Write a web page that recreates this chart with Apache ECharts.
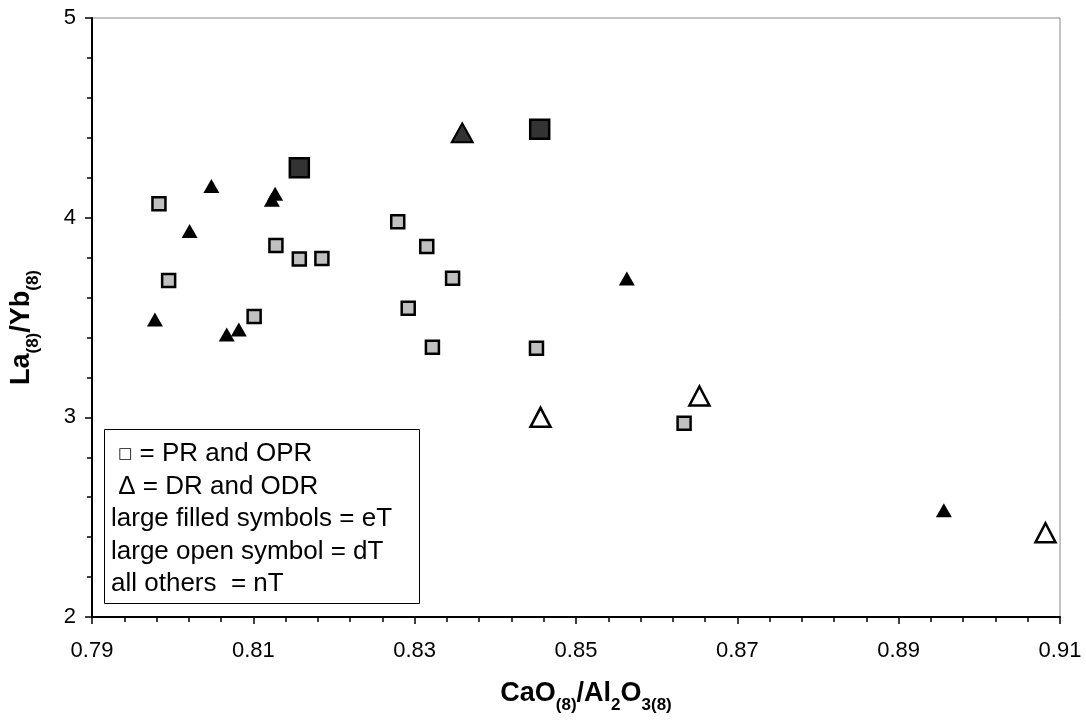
<!DOCTYPE html>
<html>
<head>
<meta charset="utf-8">
<script src="https://cdn.jsdelivr.net/npm/echarts@6/dist/echarts.min.js"></script>
<style>
  html, body { margin: 0; padding: 0; background: #fff; }
  #chart { width: 1086px; height: 724px; }
</style>
</head>
<body>
<div id="chart"></div>
<script>
// small grey squares: PR and OPR, nT
const prSquares = [
  [0.7983, 4.07], [0.7995, 3.685], [0.8101, 3.505], [0.8128, 3.86],
  [0.8157, 3.793], [0.8185, 3.796], [0.8279, 3.98], [0.8315, 3.855],
  [0.8347, 3.696], [0.8292, 3.546], [0.8322, 3.351], [0.8451, 3.346],
  [0.8634, 2.97]
]
// small black triangles: DR and ODR, nT
const drTriangles = [
  [0.7978, 3.49], [0.8021, 3.933], [0.8048, 4.159], [0.8067, 3.415],
  [0.8082, 3.44], [0.8123, 4.09], [0.8127, 4.12], [0.8563, 3.695],
  [0.8956, 2.535]
]
// large filled symbols: eT
const eTSquares = [[0.8157, 4.25], [0.8455, 4.443]]
const eTTriangles = [[0.8359, 4.425]]
// large open symbols: dT
const dTTriangles = [[0.8456, 3.0], [0.8653, 3.107], [0.9082, 2.422]]

const legendLines = [
  ' {k|\u25A1} = PR and OPR',
  ' \u0394 = DR and ODR',
  'large filled symbols = eT',
  'large open symbol = dT',
  'all others  = nT'
]

const font = 'Liberation Sans, Arial, sans-serif'
const chart = echarts.init(document.getElementById('chart'))

const axisCommon = {
  type: 'value',
  axisLine: { show: true, lineStyle: { color: '#000', width: 2 } },
  axisTick: { show: true, inside: false, length: 7, lineStyle: { color: '#000', width: 1.5 } },
  minorTick: { show: true, splitNumber: 5, length: 5, lineStyle: { color: '#000', width: 1.5 } },
  splitLine: { show: false },
  axisLabel: { color: '#000', fontSize: 22, fontFamily: font }
}

const mainStyle = { fontSize: 27, fontWeight: 'bold', fontFamily: font, color: '#000', lineHeight: 29, padding: [0, 0, 7, 0], verticalAlign: 'bottom' }
const subStyle = { fontSize: 17, fontWeight: 'bold', fontFamily: font, color: '#000', lineHeight: 19, verticalAlign: 'bottom' }

chart.setOption({
  animation: false,
  grid: {
    left: 92, right: 26, top: 18, bottom: 107,
    show: true, borderColor: '#888', borderWidth: 1
  },
  xAxis: Object.assign({}, axisCommon, {
    min: 0.79, max: 0.91, interval: 0.02,
    axisLabel: Object.assign({}, axisCommon.axisLabel, {
      margin: 23,
      formatter: v => v.toFixed(2)
    }),
    name: '{m|CaO}{s|(8)}{m|/Al}{s|2}{m|O}{s|3(8)}',
    nameLocation: 'middle',
    nameGap: 68,
    nameTextStyle: { padding: [0, 0, 0, 20], rich: { m: mainStyle, s: subStyle } }
  }),
  yAxis: Object.assign({}, axisCommon, {
    min: 2, max: 5, interval: 1,
    axisLabel: Object.assign({}, axisCommon.axisLabel, { margin: 16 }),
    name: '{m|La}{s|(8)}{m|/Yb}{s|(8)}',
    nameLocation: 'middle',
    nameGap: 50,
    nameTextStyle: { padding: [0, 20, 0, 0], rich: { m: mainStyle, s: subStyle } }
  }),
  series: [
    {
      type: 'scatter', data: prSquares, symbol: 'rect', symbolSize: 13,
      itemStyle: { color: '#c0c0c0', borderColor: '#000', borderWidth: 2.5, opacity: 1 }
    },
    {
      type: 'scatter', data: drTriangles, symbol: 'triangle', symbolSize: [16, 14],
      itemStyle: { color: '#000', opacity: 1 }
    },
    {
      type: 'scatter', data: eTSquares, symbol: 'rect', symbolSize: 19,
      itemStyle: { color: '#333', borderColor: '#000', borderWidth: 2.5, opacity: 1 }
    },
    {
      type: 'scatter', data: eTTriangles, symbol: 'triangle', symbolSize: [21, 19],
      itemStyle: { color: '#333', borderColor: '#000', borderWidth: 2, opacity: 1 }
    },
    {
      type: 'scatter', data: dTTriangles, symbol: 'triangle', symbolSize: [20, 19],
      itemStyle: { color: '#fff', borderColor: '#000', borderWidth: 2.5, opacity: 1 }
    }
  ],
  graphic: [
    {
      type: 'rect', left: 104, top: 429, z: 100,
      shape: { width: 315, height: 174 },
      style: { fill: '#fff', stroke: '#000', lineWidth: 1 }
    },
    ...legendLines.map((t, i) => ({
      type: 'text', left: 111, top: 441 + i * 32.5, z: 101,
      style: {
        text: t, fontSize: 26, fontFamily: font, fill: '#000',
        rich: { k: { fontSize: 15, fontFamily: 'DejaVu Sans', fill: '#000' } }
      }
    }))
  ]
})
</script>
</body>
</html>
